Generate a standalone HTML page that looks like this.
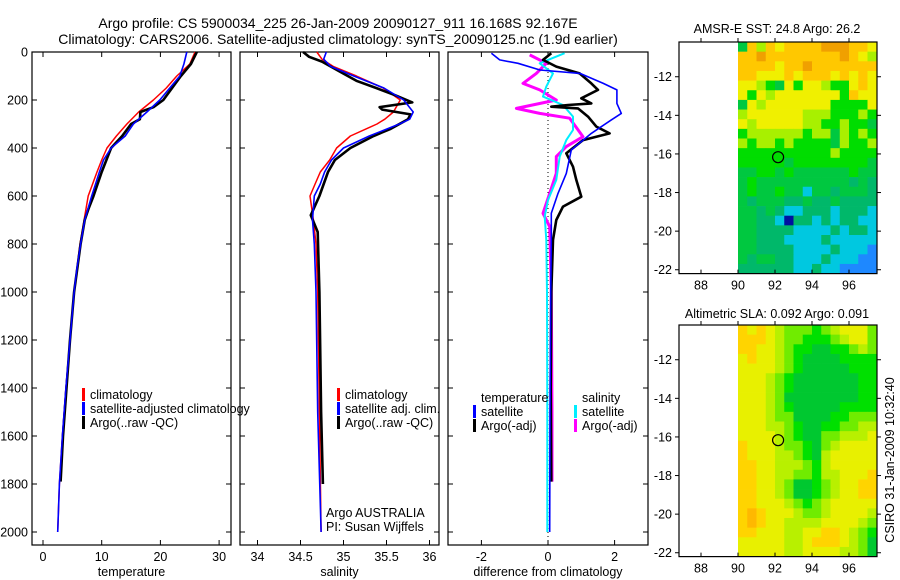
<!DOCTYPE html>
<html><head><meta charset="utf-8"><style>
body{margin:0;background:#fff}
svg{display:block;font-family:"Liberation Sans",sans-serif}
</style></head><body>
<svg id="c" width="900" height="580" viewBox="0 0 900 580" xmlns="http://www.w3.org/2000/svg">
<text x="338" y="28" font-size="14" text-anchor="middle">Argo profile: CS 5900034_225 26-Jan-2009 20090127_911 16.168S 92.167E</text>
<text x="338" y="44" font-size="14" text-anchor="middle">Climatology: CARS2006. Satellite-adjusted climatology: synTS_20090125.nc (1.9d earlier)</text>
<text x="777" y="33" font-size="12.5" text-anchor="middle">AMSR-E SST: 24.8 Argo: 26.2</text>
<text x="777" y="318" font-size="12.5" text-anchor="middle">Altimetric SLA: 0.092 Argo: 0.091</text>
<text transform="translate(894,460) rotate(-90)" font-size="12.5" text-anchor="middle">CSIRO 31-Jan-2009 10:32:40</text>
<g id="plots"></g>
</svg>
<script>
// ---- depth axis data ----
const depthTicks=[0,200,400,600,800,1000,1200,1400,1600,1800,2000];
// ---- temperature panel ----
const tDepth=[0,50,100,150,200,250,300,350,400,450,500,600,700,800,900,1000,1200,1400,1600,1800,2000];
const tClim=[25.9,25,22.8,21,18.8,16.3,14.3,12.5,10.9,10,9.2,7.7,7,6.3,5.8,5.3,4.6,3.9,3.3,2.8,2.5];
const tSat=[24.5,24,23.3,21.6,19.9,17.7,15.4,14,11.6,10.3,9.6,8.3,7.1,6.4,5.8,5.3,4.6,3.9,3.3,2.8,2.5];
const aDepth=[0,50,100,150,200,230,250,280,300,350,400,500,600,650,700,800,1000,1200,1400,1600,1790];
const tArgo=[26.2,25.2,23.5,22,20.5,18.8,16.6,16.5,15,13.5,11.6,10,8.6,7.8,7.1,6.4,5.3,4.6,4,3.4,3];
const tTicks=[0,10,20,30];
// ---- salinity panel ----
const sDepth=[0,30,60,100,150,200,250,280,300,350,400,450,500,550,600,700,800,1000,1500,2000];
const sClim=[34.69,34.75,34.88,35.15,35.46,35.66,35.58,35.48,35.39,35.08,34.92,34.84,34.73,34.67,34.61,34.65,34.68,34.7,34.72,34.74];
const sSat=[34.8,34.77,34.85,35.12,35.47,35.7,35.81,35.77,35.65,35.3,35.0,34.86,34.78,34.73,34.66,34.64,34.66,34.68,34.7,34.74];
const saDepth=[0,20,40,80,120,150,180,210,230,240,260,280,320,350,400,450,500,600,680,750,1000,1500,1800];
const sArgo=[34.53,34.6,34.75,34.95,35.15,35.38,35.6,35.8,35.42,35.45,35.78,35.75,35.55,35.35,35.08,34.9,34.82,34.72,34.62,34.7,34.72,34.74,34.76];
const sTicks=[34,34.5,35,35.5,36];
const sTickLabels=["34","34.5","35","35.5","36"];
// ---- difference panel ----
const dTicks=[-2,0,2];
const bDepth=[5,33,47,75,89,131,158,214,256,283,339,408,506,589,672,783,1000,1500,2000];
const dTSat=[-1.7,-1.45,-0.9,-0.24,0.96,1.66,2.07,2.07,2.2,1.9,1.3,0.7,0.55,0.3,0.1,0.1,0.08,0.06,0.05];
const kDepth=[5,33,61,89,131,158,193,214,221,228,235,269,311,339,367,422,478,533,603,644,700,783,1000,1400,1790];
const dTArgo=[0.1,-0.15,0.25,0.95,1.3,1.5,1.0,1.3,0.6,0.1,0.9,1.2,1.45,1.85,1.05,0.55,0.75,0.85,1.0,0.45,0.25,0.15,0.1,0.08,0.1];
const mDepth=[12,47,89,131,158,200,235,256,276,353,394,436,506,589,672,728,1000,1500,1790];
const dSArgo=[-0.55,-0.05,-0.35,-0.75,-0.25,0.25,-0.95,-0.25,0.65,1.05,0.55,0.25,0.25,0.05,-0.15,0.05,0.1,0.12,0.12];
const cDepth=[5,47,89,144,186,221,269,325,367,436,533,617,686,783,1000,1500,2000];
const dSSat=[0.5,-0.25,0.15,-0.05,-0.15,0.45,0.75,0.75,0.55,0.35,0.25,0,-0.1,-0.05,-0.03,-0.02,-0.02];
// ---- maps ----
const lonTicks=[88,90,92,94,96];
const latTicks=[-12,-14,-16,-18,-20,-22];
const sstRows=["486878888999887","889888888889876","888878898888888","887778788878787","776547577655787","757677777775877","476777777755557","677777766655565","767777766556554","566666656646565","656656555546556","555555555565555","555554555555554","445545444444544","454444444444343","454454424434443","434443343343333","443432233323332","443320332323322","443333222232332","443332222322222","443333222232221","434433222322211","333333223221111"];
const slaRows=["545432221234442","555432211123442","554432110011232","454432100001111","444432100000111","444321000000011","444321000000011","444320000000011","444321000001111","444322000011222","444332100112233","444432100223334","544432210234444","544433210344444","554433321344444","554433221334445","554432001234455","554432001234455","554443212344444","565444322344443","565443333444432","554443344554321","444443345554320","444443344443320"];
const sstColors=["#0010a0","#1e88ff","#00c8e0","#00b86a","#00c840","#00dd00","#a8f000","#f0f000","#ffc800","#f0a000"];
const slaColors=["#00c830","#00e000","#70ec00","#b8f000","#e8f000","#ffd400","#ffb800"];
const argoLon=92.167, argoLat=-16.168;

const NS="http://www.w3.org/2000/svg";
const root=document.getElementById('plots');
function mk(tag,attrs,parent){const e=document.createElementNS(NS,tag);for(const k in attrs)e.setAttribute(k,attrs[k]);(parent||root).appendChild(e);return e;}
const yD=d=>52+0.24*d;

function panel(name,x0,x1,xs,ticks,labels,title,showDepth){
  const g=mk('g',{});
  
  
  const fr=mk('rect',{x:x0,y:52,width:x1-x0,height:493,fill:'none',stroke:'#000','stroke-width':1.2},g);
  
  
  depthTicks.forEach(d=>{
    const y=yD(d);
    mk('line',{x1:x0,x2:x0+5,y1:y,y2:y,stroke:'#000'},g);
    mk('line',{x1:x1-5,x2:x1,y1:y,y2:y,stroke:'#000'},g);
    if(showDepth){const t=mk('text',{x:x0-4,y:y+4.5,'font-size':12.5,'text-anchor':'end'},g);t.textContent=d;
      
      }
  });
  ticks.forEach((v,i)=>{
    const x=xs(v);
    mk('line',{x1:x,x2:x,y1:545,y2:540,stroke:'#000'},g);
    mk('line',{x1:x,x2:x,y1:52,y2:57,stroke:'#000'},g);
    const t=mk('text',{x:x,y:561,'font-size':12.5,'text-anchor':'middle'},g);t.textContent=labels[i];
    
    
  });
  const tt=mk('text',{x:(x0+x1)/2,y:576,'font-size':12.5,'text-anchor':'middle'},g);tt.textContent=title;
  
  
  return g;
}
function line(g,xs,vals,depths,color,w,name){
  const p=mk('polyline',{points:vals.map((v,i)=>xs(v).toFixed(1)+','+yD(depths[i]).toFixed(1)).join(' '),fill:'none',stroke:color,'stroke-width':w,'stroke-linejoin':'round'},g);
  
  
}
function legend(g,x,y,color,label,name){
  mk('rect',{x:x,y:y-9,width:3,height:13,fill:color},g);
  const t=mk('text',{x:x+8,y:y+2,'font-size':12.5},g);t.textContent=label;
  
  
}
// temperature
const xT=v=>43+5.87*v;
let g=panel('temperature-panel',32,231,xT,tTicks,tTicks.map(String),'temperature',true);
line(g,xT,tClim,tDepth,'#ff0000',1.5,'temp-climatology-line');
line(g,xT,tArgo,aDepth,'#000',2.6,'temp-argo-line');
line(g,xT,tSat,tDepth,'#0000ff',1.6,'temp-satellite-line');
legend(g,82,397,'#ff0000','climatology','legend-climatology');
legend(g,82,411,'#0000ff','satellite-adjusted climatology','legend-satellite');
legend(g,82,425,'#000','Argo(..raw -QC)','legend-argo');
// salinity
const xS=v=>257.5+86*(v-34);
g=panel('salinity-panel',240,439,xS,sTicks,sTickLabels,'salinity',false);
line(g,xS,sClim,sDepth,'#ff0000',1.5,'sal-climatology-line');
line(g,xS,sArgo,saDepth,'#000',2.6,'sal-argo-line');
line(g,xS,sSat,sDepth,'#0000ff',1.6,'sal-satellite-line');
legend(g,337,397,'#ff0000','climatology','legend-sal-climatology');
legend(g,337,411,'#0000ff','satellite adj. clim.','legend-sal-satellite');
legend(g,337,425,'#000','Argo(..raw -QC)','legend-sal-argo');
let t=mk('text',{x:326,y:517,'font-size':12.5},g);t.textContent='Argo AUSTRALIA';


t=mk('text',{x:326,y:531,'font-size':12.5},g);t.textContent='PI: Susan Wijffels';


// difference
const xDf=v=>548+33.3*v;
g=panel('difference-panel',448,648,xDf,dTicks,dTicks.map(String),'difference from climatology',false);
const zl=mk('line',{x1:xDf(0),x2:xDf(0),y1:52,y2:545,stroke:'#000','stroke-dasharray':'1,3'},g);


line(g,xDf,dSArgo,mDepth,'#ff00ff',3,'sal-argo-diff-line');
line(g,xDf,dSSat,cDepth,'#00eeff',2,'sal-satellite-diff-line');
line(g,xDf,dTArgo,kDepth,'#000',2.6,'temp-argo-diff-line');
line(g,xDf,dTSat,bDepth,'#0000ff',1.6,'temp-satellite-diff-line');
t=mk('text',{x:481,y:402,'font-size':12.5},g);t.textContent='temperature';


t=mk('text',{x:582,y:402,'font-size':12.5},g);t.textContent='salinity';


legend(g,473,414,'#0000ff','satellite','legend-temp-satellite');
legend(g,473,428,'#000','Argo(-adj)','legend-temp-argo');
legend(g,574,414,'#00eeff','satellite','legend-sal-satellite-diff');
legend(g,574,428,'#ff00ff','Argo(-adj)','legend-sal-argo-diff');
// maps
function map(name,top,rows,colors){
  const g=mk('g',{});
  
  
  const xL=lon=>738+18.5*(lon-90);
  const yL=lat=>top+19.3*(-10.2-lat);
  rows.forEach((r,ri)=>{for(let ci=0;ci<r.length;ci++){
    const lon=90+ci*0.5, lat=-10.2-ri*0.5;
    const c=mk('rect',{x:xL(lon).toFixed(2),y:yL(lat).toFixed(2),width:9.6,height:10,fill:colors[+r[ci]]},g);
    
    
  }});
  const bottom=yL(-22.2);
  mk('rect',{x:679,y:top,width:198,height:bottom-top,fill:'none',stroke:'#000','stroke-width':1.2},g);
  lonTicks.forEach(l=>{const x=xL(l);
    mk('line',{x1:x,x2:x,y1:top,y2:top-4,stroke:'#000'},g);
    mk('line',{x1:x,x2:x,y1:bottom,y2:bottom-4,stroke:'#000'},g);
    const tx=mk('text',{x:x,y:bottom+16,'font-size':12.5,'text-anchor':'middle'},g);tx.textContent=l;
    
    });
  latTicks.forEach(l=>{const y=yL(l);
    mk('line',{x1:679,x2:675,y1:y,y2:y,stroke:'#000'},g);
    mk('line',{x1:877,x2:881,y1:y,y2:y,stroke:'#000'},g);
    const tx=mk('text',{x:672,y:y+4.5,'font-size':12.5,'text-anchor':'end'},g);tx.textContent=l;
    
    });
  const ci=mk('circle',{cx:xL(argoLon),cy:yL(argoLat),r:5.5,fill:'none',stroke:'#000','stroke-width':1.2},g);
  
  
}
map('sst-map',42,sstRows,sstColors);
map('sla-map',325,slaRows,slaColors);
</script>
</body></html>
